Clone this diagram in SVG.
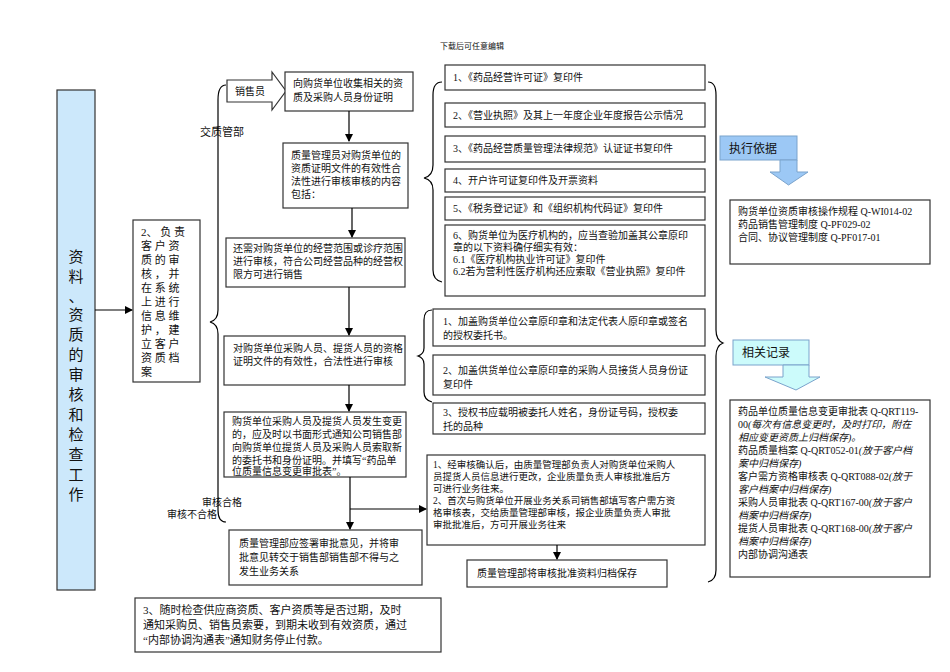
<svg xmlns="http://www.w3.org/2000/svg" width="950" height="672" viewBox="0 0 950 672">
<defs>
<style>
text{font-family:"Liberation Serif","Noto Sans CJK SC",serif;font-size:10px;fill:#111}
.b{fill:#fff;stroke:#333;stroke-width:1.2}
.l{fill:none;stroke:#000;stroke-width:1.2}
.i{font-style:italic}
</style>
<marker id="a" markerWidth="8" markerHeight="8" refX="7" refY="4" orient="auto" markerUnits="userSpaceOnUse"><path d="M0,0L8,4L0,8z" fill="#000"/></marker>
</defs>
<rect width="950" height="672" fill="#fff"/>
<text x="440" y="49" style="font-size:8px">下载后可任意编辑</text>

<g id="left"><rect x="57" y="90" width="38" height="500" fill="#cce8fb" stroke="#333" stroke-width="1.2"/>
<text x="76" y="262" text-anchor="middle" style="font-size:15px">资</text>
<text x="76" y="282" text-anchor="middle" style="font-size:15px">料</text>
<text x="76" y="302" text-anchor="middle" style="font-size:15px">、</text>
<text x="76" y="320" text-anchor="middle" style="font-size:15px">资</text>
<text x="76" y="340" text-anchor="middle" style="font-size:15px">质</text>
<text x="76" y="360" text-anchor="middle" style="font-size:15px">的</text>
<text x="76" y="380" text-anchor="middle" style="font-size:15px">审</text>
<text x="76" y="400" text-anchor="middle" style="font-size:15px">核</text>
<text x="76" y="420" text-anchor="middle" style="font-size:15px">和</text>
<text x="76" y="440" text-anchor="middle" style="font-size:15px">检</text>
<text x="76" y="460" text-anchor="middle" style="font-size:15px">查</text>
<text x="76" y="480" text-anchor="middle" style="font-size:15px">工</text>
<text x="76" y="500" text-anchor="middle" style="font-size:15px">作</text></g>

<g id="box2"><rect class="b" x="133" y="220" width="67" height="162"/>
<text style="font-size:11px"><tspan x="141" y="236">2、 负 责</tspan><tspan x="141" y="250">客 户 资</tspan><tspan x="141" y="264">质 的 审</tspan><tspan x="141" y="278">核 ， 并</tspan><tspan x="141" y="292">在 系 统</tspan><tspan x="141" y="306">上 进 行</tspan><tspan x="141" y="320">信 息 维</tspan><tspan x="141" y="334">护 ， 建</tspan><tspan x="141" y="348">立 客 户</tspan><tspan x="141" y="362">资 质 档</tspan><tspan x="141" y="376">案</tspan></text></g>

<g id="sales"><path d="M227,80H272V72L286,91L272,110V102H227Z" fill="#fff" stroke="#333" stroke-width="1.2"/><text x="235" y="95">销售员</text></g>
<text x="200" y="136" style="font-size:11px">交质管部</text>

<g id="nA"><rect class="b" x="285" y="72" width="128" height="39"/><text><tspan x="293" y="87">向购货单位收集相关的资</tspan><tspan x="293" y="101">质及采购人员身份证明</tspan></text></g>
<g id="nB"><rect class="b" x="283" y="143" width="125" height="65"/><text><tspan x="291" y="159">质量管理员对购货单位的</tspan><tspan x="291" y="172">资质证明文件的有效性合</tspan><tspan x="291" y="185">法性进行审核审核的内容</tspan><tspan x="291" y="198">包括：</tspan></text></g>
<g id="nC"><rect class="b" x="226" y="238" width="179" height="49"/><text><tspan x="233" y="252">还需对购货单位的经营范围或诊疗范围</tspan><tspan x="233" y="265">进行审核，符合公司经营品种的经营权</tspan><tspan x="233" y="278">限方可进行销售</tspan></text></g>
<g id="nD"><rect class="b" x="224" y="336" width="181" height="49"/><text><tspan x="233" y="352">对购货单位采购人员、提货人员的资格</tspan><tspan x="233" y="365">证明文件的有效性，合法性进行审核</tspan></text></g>
<g id="nE"><rect class="b" x="224" y="412" width="182" height="65"/><text><tspan x="232" y="425">购货单位采购人员及提货人员发生变更</tspan><tspan x="232" y="438">的，应及时以书面形式通知公司销售部</tspan><tspan x="232" y="451">向购货单位提货人员及采购人员索取新</tspan><tspan x="232" y="464">的委托书和身份证明。并填写“药品单</tspan><tspan x="232" y="476" dy="-1">位质量信息变更审批表”。</tspan></text></g>
<g id="nF"><rect class="b" x="229" y="530" width="193" height="55"/><text><tspan x="239" y="547">质量管理部应签署审批意见，并将审</tspan><tspan x="239" y="561">批意见转交于销售部销售部不得与之</tspan><tspan x="239" y="575">发生业务关系</tspan></text></g>
<text x="202" y="506">审核合格</text><text x="167" y="518">审核不合格</text>
<g id="nG"><rect class="b" x="135" y="598" width="306" height="54"/><text style="font-size:11px"><tspan x="143" y="614">3、随时检查供应商资质、客户资质等是否过期，及时</tspan><tspan x="143" y="629">通知采购员、销售员索要，到期未收到有效资质，通过</tspan><tspan x="143" y="644">“内部协调沟通表”通知财务停止付款。</tspan></text></g>

<g id="r1"><rect class="b" x="445" y="65" width="260" height="25"/><text x="453" y="81">1、《药品经营许可证》复印件</text></g>
<g id="r2"><rect class="b" x="445" y="103" width="260" height="24"/><text x="453" y="119">2、《营业执照》及其上一年度企业年度报告公示情况</text></g>
<g id="r3"><rect class="b" x="445" y="136" width="260" height="26"/><text x="453" y="152">3、《药品经营质量管理法律规范》认证证书复印件</text></g>
<g id="r4"><rect class="b" x="445" y="169" width="260" height="23"/><text x="453" y="184">4、开户许可证复印件及开票资料</text></g>
<g id="r5"><rect class="b" x="445" y="197" width="260" height="23"/><text x="453" y="212">5、《税务登记证》和《组织机构代码证》复印件</text></g>
<g id="r6"><rect class="b" x="445" y="225" width="260" height="71"/><text><tspan x="453" y="239">6、购货单位为医疗机构的，应当查验加盖其公章原印</tspan><tspan x="453" y="251">章的以下资料确仔细实有效：</tspan><tspan x="453" y="263">6.1《医疗机构执业许可证》复印件</tspan><tspan x="453" y="275">6.2若为营利性医疗机构还应索取《营业执照》复印件</tspan></text></g>

<g id="s1"><rect class="b" x="433" y="309" width="272" height="37"/><text><tspan x="443" y="325">1、加盖购货单位公章原印章和法定代表人原印章或签名</tspan><tspan x="443" y="339">的授权委托书。</tspan></text></g>
<g id="s2"><rect class="b" x="433" y="355" width="272" height="40"/><text><tspan x="443" y="374">2、加盖供货单位公章原印章的采购人员接货人员身份证</tspan><tspan x="443" y="388">复印件</tspan></text></g>
<g id="s3"><rect class="b" x="433" y="403" width="272" height="31"/><text><tspan x="443" y="416">3、授权书应载明被委托人姓名，身份证号码，授权委</tspan><tspan x="443" y="430">托的品种</tspan></text></g>

<g id="nH"><rect class="b" x="427" y="455" width="278" height="90"/><text style="font-size:9.5px"><tspan x="433" y="468">1、经审核确认后，由质量管理部负责人对购货单位采购人</tspan><tspan x="433" y="480">员提货人员信息进行更改，企业质量负责人审核批准后方</tspan><tspan x="433" y="492">可进行业务往来。</tspan><tspan x="433" y="504">2、首次与购货单位开展业务关系司销售部填写客户需方资</tspan><tspan x="433" y="516">格审核表，交给质量管理部审核，报企业质量负责人审批</tspan><tspan x="433" y="528">审批批准后，方可开展业务往来</tspan></text></g>
<g id="nI"><rect class="b" x="467" y="560" width="200" height="27"/><text x="477" y="577">质量管理部将审核批准资料归档保存</text></g>

<g id="exec"><rect x="720" y="136" width="77" height="24" fill="#9cc8f5" stroke="#7aa3cc"/><text x="729" y="153" style="font-size:12px">执行依据</text>
<path d="M780,160H797V172H808L788.5,185L770,172H780Z" fill="#9cc8f5" stroke="#7aa3cc"/></g>
<g id="nJ"><rect class="b" x="730" y="200" width="200" height="64"/><text><tspan x="738" y="215">购货单位资质审核操作规程 Q-WI014-02</tspan><tspan x="738" y="228">药品销售管理制度 Q-PF029-02</tspan><tspan x="738" y="241">合同、协议管理制度 Q-PF017-01</tspan></text></g>
<g id="rec"><rect x="733" y="340" width="76" height="25" fill="#ccfbfb" stroke="#7aa3cc"/><text x="742" y="357" style="font-size:12px">相关记录</text>
<path d="M783,365H809V377H820L796,390L765,377H783Z" fill="#ccfbfb" stroke="#7aa3cc"/></g>
<g id="nK"><rect class="b" x="730" y="400" width="200" height="177"/><text><tspan x="738" y="415">药品单位质量信息变更审批表 Q-QRT119-</tspan><tspan x="738" y="428">00<tspan class="i">(每次有信息变更时，及时打印，附在</tspan></tspan><tspan x="738" y="441" class="i">相应变更资质上归档保存)。</tspan><tspan x="738" y="454">药品质量档案 Q-QRT052-01<tspan class="i">(放于客户档</tspan></tspan><tspan x="738" y="467" class="i">案中归档保存)</tspan><tspan x="738" y="480">客户需方资格审核表 Q-QRT088-02<tspan class="i">(放于</tspan></tspan><tspan x="738" y="493" class="i">客户档案中归档保存)</tspan><tspan x="738" y="506">采购人员审批表 Q-QRT167-00<tspan class="i">(放于客户</tspan></tspan><tspan x="738" y="519" class="i">档案中归档保存)</tspan><tspan x="738" y="532">提货人员审批表 Q-QRT168-00<tspan class="i">(放于客户</tspan></tspan><tspan x="738" y="545" class="i">档案中归档保存)</tspan><tspan x="738" y="558">内部协调沟通表</tspan></text></g>

<g id="connectors">
<path class="l" d="M95,310H132" marker-end="url(#a)"/>
<path class="l" d="M349,111V141" marker-end="url(#a)"/>
<path class="l" d="M352,208V237" marker-end="url(#a)"/>
<path class="l" d="M349,287V335" marker-end="url(#a)"/>
<path class="l" d="M349,385V411" marker-end="url(#a)"/>
<path class="l" d="M350,477V529" marker-end="url(#a)"/>
<path class="l" d="M350,509H426" marker-end="url(#a)"/>
<path class="l" d="M557,545V559" marker-end="url(#a)"/>
<path class="l" d="M226,85Q218,85 218,100V310Q218,320 210,322Q218,324 218,334V510Q218,522 226,522" transform="translate(0,0)"/>
<path class="l" d="M442,82Q433,82 433,95V165Q433,176 424,178Q433,180 433,190V270Q433,280 442,282"/>
<path class="l" d="M708,82Q716,82 716,95V330Q716,340 723,343Q716,346 716,356V570Q716,580 708,582"/>
<path class="l" d="M432,310Q424,310 424,320V348Q424,354 418,356Q424,358 424,364V392Q424,400 432,402"/>
</g>
</svg>
